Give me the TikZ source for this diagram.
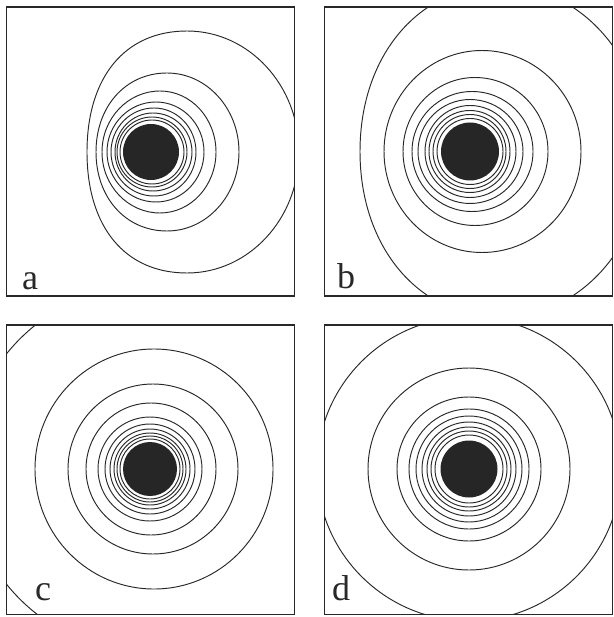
\documentclass[tikz,border=0pt]{standalone}
\usepackage{fontspec}
\setmainfont{Liberation Serif}
\usepackage{xcolor}
\definecolor{inkgray}{RGB}{40,40,40}
\definecolor{diskgray}{RGB}{38,38,38}

% one closed level line: [left roundness] shift, left and right half widths, half height
\newcommand{\isoline}[5][0.552]{%
  \draw[ring] (#2,-#5) .. controls +({-#1*#3},0) and +(0,{-#1*#5}) .. ({#2-#3},0)
                       .. controls +(0,{#1*#5}) and +({-#1*#3},0) .. (#2,#5)
                       .. controls +({0.552*#4},0) and +(0,{0.552*#5}) .. ({#2+#4},0)
                       .. controls +(0,{-0.552*#5}) and +({0.552*#4},0) .. (#2,-#5) -- cycle;}

\begin{document}
\begin{tikzpicture}[x=1pt, y=-1pt,
  ring/.style={draw=inkgray, line width=0.95pt},
  panel/.style={draw=inkgray, line width=1.1pt},
  disk/.style={fill=diskgray, draw=none},
  lbl/.style={anchor=base west, inner sep=0pt, font=\fontsize{36}{36}\selectfont, text=inkgray}
]
  \useasboundingbox (0,0) rectangle (613,617);

  % panel a
  \begin{scope}
    \clip (6.5,7) rectangle (294.5,296);
    \begin{scope}[shift={(151,152)}]
      \fill[disk] (0,0) circle[radius=28];
      \foreach \s/\aL/\aR/\b in {1/32/32/32, 1/35/35/35, 2/38/39/39, 3/43/42/44,
                                 5/49/48/50, 9/58/56/61}
        {\isoline{\s}{\aL}{\aR}{\b}}
      \isoline[0.58]{16}{71}{72}{79}
      \isoline[0.62]{36}{100}{112}{121}
    \end{scope}
  \end{scope}
  \draw[panel] (6.5,7) rectangle (294.5,296);
  \node[lbl] (la) at (22,289) {a};

  % panel b
  \begin{scope}
    \clip (324.5,7) rectangle (612.5,296);
    \begin{scope}[shift={(470,151.5)}]
      \fill[disk] (0,0) circle[radius=29];
      \foreach \s/\aL/\aR/\b in {0/33/33/33, 0/37/36/37, 0/41/40/41, 0/45/46/46,
                                 0/52/53/52, 2/60/61/60, 5/72/73/74, 12/98/99/101}
        {\isoline{\s}{\aL}{\aR}{\b}}
      \isoline[0.58]{31}{141}{145}{166}
    \end{scope}
  \end{scope}
  \draw[panel] (324.5,7) rectangle (612.5,296);
  \node[lbl] (lb) at (337,288) {b};

  % panel c
  \begin{scope}
    \clip (6.5,325) rectangle (294.5,614.5);
    \begin{scope}[shift={(150,469)}]
      \fill[disk] (0,0) circle[radius=27];
      \foreach \s/\aL/\aR/\b in {0/30/30/30, 0/33/33/33, 0/36/36/36, 0/40/40/40, 0/45/45/45,
                                 0/52/52/52, 1/65/65/66, 3/85/85/85, 4/119/119/120}
        {\isoline{\s}{\aL}{\aR}{\b}}
      % corner pieces on the left
      \draw[ring] (125:184) arc[start angle=125, end angle=235, radius=184];
    \end{scope}
  \end{scope}
  \draw[panel] (6.5,325) rectangle (294.5,614.5);
  \node[lbl] (lc) at (35,600) {c};

  % panel d
  \begin{scope}
    \clip (324.5,325) rectangle (612.5,614.5);
    \begin{scope}[shift={(469,469)}]
      \fill[disk] (0,0) circle[radius=28.5];
      \foreach \r in {34,38,42,47,53,60,72,101,152}
        {\draw[ring] (0,0) circle[radius=\r];}
    \end{scope}
  \end{scope}
  \draw[panel] (324.5,325) rectangle (612.5,614.5);
  \node[lbl] (ld) at (332,600) {d};
\end{tikzpicture}
\end{document}
